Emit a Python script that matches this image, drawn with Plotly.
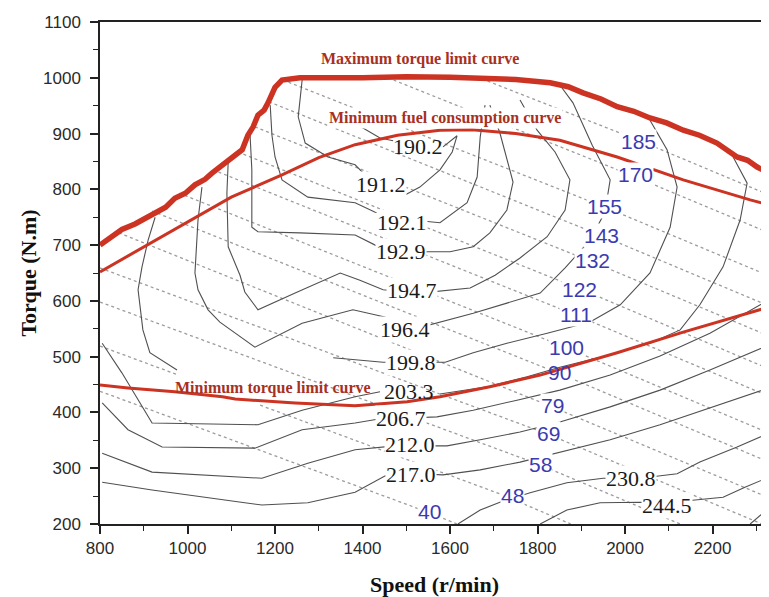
import plotly.graph_objects as go

# ---------------- data (speed r/min, torque N.m) ----------------
max_torque_speed = [800, 830, 850, 880, 905, 926, 950, 971, 995, 1017, 1040, 1056, 1075, 1093, 1110, 1125,
                    1138, 1150, 1161, 1175, 1184, 1200, 1216, 1257,
                    1400, 1500, 1600, 1700, 1750, 1829, 1870, 1904, 1945, 1982, 2020, 2057, 2095, 2133,
                    2170, 2210, 2256, 2280, 2302, 2329]
max_torque_torque = [700, 716, 728, 738, 748, 759, 768, 784, 793, 808, 818, 829, 840, 853, 860, 871,
                     897, 912, 933, 942, 955, 983, 996, 1000,
                     1000, 1002, 1001, 999, 997, 991, 984, 973, 962, 948, 940, 928, 919, 906,
                     897, 883, 858, 852, 840, 829]

min_fuel_speed = [800, 900, 1017, 1100, 1216, 1300, 1383, 1480, 1577, 1650, 1750, 1851, 1982, 2133, 2286, 2329]
min_fuel_torque = [652, 697, 750, 786, 826, 857, 880, 897, 906, 907, 900, 888, 858, 817, 781, 772]

min_torque_speed = [800, 864, 971, 1047, 1080, 1109, 1246, 1383, 1502, 1577, 1691, 1806, 1982, 2133, 2329]
min_torque_torque = [449, 444, 437, 431, 428, 424, 417, 412, 419, 428, 446, 467, 507, 544, 589]

# BSFC contour lines (g/kWh)
c190_2_speed = [1360, 1401, 1440, 1470, None, 1584, 1616, 1605, 1577, 1531, 1497]
c190_2_torque = [921, 910, 892, 887, None, 876, 896, 867, 835, 804, 790]
c191_2_speed = [1262, 1257, 1253, 1269, 1321, 1383, 1413, 1440, 1497]
c191_2_torque = [996, 960, 930, 883, 858, 844, 820, 804, 790]
c192_1_speed = [1189, 1193, 1200, 1216, 1275, 1383, 1429, 1513, 1577, 1639, 1662, 1669, 1680]
c192_1_torque = [951, 897, 858, 817, 786, 776, 759, 745, 740, 776, 822, 894, 951]
c192_9_speed = [1143, 1147, 1147, 1161, 1257, 1383, 1429, 1497, 1550, 1600, 1653, 1691, 1730, 1744, 1714, 1691]
c192_9_torque = [897, 835, 732, 724, 722, 718, 700, 686, 688, 688, 697, 722, 763, 813, 901, 951]
c194_7_speed = [1093, 1090, 1093, 1120, 1131, 1161, 1246, 1349, 1394, 1447, 1531, 1589, 1646, 1703, 1760,
                1822, 1863, 1874, 1840, 1799, 1760]
c194_7_torque = [849, 793, 697, 646, 616, 584, 614, 650, 637, 620, 614, 618, 623, 646, 677,
                 715, 763, 817, 867, 906, 960]
c196_4_speed = [1033, 1024, 1017, 1024, 1047, 1074, 1154, 1262, 1378, 1451, 1511, 1570, 1653, 1730, 1806,
                1863, 1920, 1954, 1966, 1925, 1881, 1851]
c196_4_torque = [804, 745, 650, 620, 584, 562, 517, 560, 584, 571, 548, 560, 578, 596, 614,
                 659, 709, 759, 817, 879, 955, 987]
c199_8_speed = [926, 910, 896, 887, 898, 914, 976, None, 1333, 1447, 1529, 1589, 1653, 1730, 1822,
                1920, 1989, 2057, 2103, 2119, 2096, 2057]
c199_8_torque = [750, 709, 661, 620, 548, 507, 476, None, 498, 490, 490, 490, 507, 524, 542,
                 562, 593, 650, 732, 804, 871, 924]
c203_3_speed = [805, 850, 919, 1161, 1262, 1383, 1440, None, 1577, 1685, 1776, 1851, 1943, 2057, 2126,
                2171, 2224, 2263, 2279, 2247]
c203_3_torque = [524, 471, 381, 378, 404, 428, 437, None, 433, 446, 464, 481, 499, 524, 548,
                 593, 661, 745, 811, 858]
c206_7_speed = [805, 864, 942, 1154, 1262, 1383, 1451, 1509, 1570, 1653, 1753, 1851, 1966, 2080, 2194, 2329]
c206_7_torque = [417, 369, 338, 336, 369, 381, 390, 390, 392, 404, 422, 440, 467, 501, 542, 602]
c212_0_speed = [805, 919, 1170, 1275, 1383, 1474, 1536, 1593, 1669, 1760, 1851, 1966, 2080, 2194, 2329]
c212_0_torque = [327, 293, 282, 309, 333, 340, 340, 340, 351, 365, 383, 410, 440, 476, 521]
c217_0_speed = [805, 919, 1131, 1170, 1275, 1383, 1451, 1525, 1584, 1669, 1760, 1851, 1966, 2080, 2194, 2329]
c217_0_torque = [275, 261, 238, 234, 238, 257, 286, 290, 288, 297, 311, 329, 351, 378, 408, 444]
c230_8_speed = [1618, 1669, 1714, 1783, 1867, 1950, 2034, 2119, 2171, 2256, 2329]
c230_8_torque = [200, 225, 239, 256, 274, 282, 282, 290, 311, 338, 363]
c244_5_speed = [1806, 1867, 1943, 2034, 2096, 2155, 2224, 2274, 2329]
c244_5_torque = [200, 225, 238, 239, 238, 243, 248, 266, 284]
c_outer_speed = [2286, 2329]
c_outer_torque = [200, 229]

bsfc_labels = ["190.2", "191.2", "192.1", "192.9", "194.7", "196.4", "199.8", "203.3",
               "206.7", "212.0", "217.0", "230.8", "244.5"]
bsfc_label_speed = [1527, 1442, 1490, 1488, 1513, 1497, 1511, 1506, 1488, 1509, 1511, 2014, 2096]
bsfc_label_torque = [876, 808, 741, 688, 618, 548, 489, 437, 390, 342, 288, 282, 234]

# iso-power lines (kW)
p200_speed = [1886, 2126]
p200_torque = [978, 912]
p185_speed = [1673, 2034, 2329]
p185_torque = [998, 887, 790]
p170_speed = [1458, 2018, 2329]
p170_torque = [1000, 824, 722]
p155_speed = [1218, 1954, 2329]
p155_torque = [996, 768, 645]
p143_speed = [1186, 1943, 2329]
p143_torque = [957, 718, 591]
p132_speed = [1154, 1925, 2329]
p132_torque = [912, 670, 537]
p122_speed = [1115, 1902, 2329]
p122_torque = [867, 620, 478]
p111_speed = [1058, 1886, 2329]
p111_torque = [835, 575, 429]
p100_speed = [981, 1863, 2329]
p100_torque = [793, 517, 363]
p90_speed = [919, 1817, None, 1886, 2329]
p90_torque = [761, 480, None, 458, 311]
p79_speed = [843, 1824, 2329]
p79_torque = [722, 413, 247]
p69_speed = [800, 1824, 2313]
p69_torque = [659, 361, 200]
p58_speed = [800, 1806, 2126]
p58_torque = [598, 306, 200]
p48_speed = [800, 976, None, 1166, 1714, 1876]
p48_torque = [519, 468, None, 413, 254, 200]
p40_speed = [800, 1550, 1616]
p40_torque = [438, 221, 200]

power_labels = ["185", "170", "155", "143", "132", "122", "111", "100", "90", "79", "69", "58", "48", "40"]
power_label_speed = [2030, 2023, 1952, 1947, 1925, 1897, 1888, 1867, 1851, 1835, 1826, 1806, 1742, 1552]
power_label_torque = [885, 826, 770, 718, 672, 621, 575, 517, 471, 413, 363, 306, 252, 222]

curve_labels = ["Maximum torque limit curve", "Minimum fuel consumption curve", "Minimum torque limit curve"]
curve_label_speed = [1531, 1589, 1195]
curve_label_torque = [1034, 928, 444]

# ---------------- figure ----------------
RED = "#cc3322"
RED_TEXT = "#a8301f"
GREY_DOT = "#9c9c9c"
CONTOUR = "#505050"

fig = go.Figure()


def add_line(xs, ys, color, width, dash=None):
    fig.add_trace(go.Scatter(x=xs, y=ys, mode="lines",
                             line=dict(color=color, width=width, dash=dash),
                             hoverinfo="skip", showlegend=False))


power_lines = [
    (p200_speed, p200_torque), (p185_speed, p185_torque), (p170_speed, p170_torque),
    (p155_speed, p155_torque), (p143_speed, p143_torque), (p132_speed, p132_torque),
    (p122_speed, p122_torque), (p111_speed, p111_torque), (p100_speed, p100_torque),
    (p90_speed, p90_torque), (p79_speed, p79_torque), (p69_speed, p69_torque),
    (p58_speed, p58_torque), (p48_speed, p48_torque), (p40_speed, p40_torque),
]
for xs, ys in power_lines:
    add_line(xs, ys, GREY_DOT, 1.3, "3px,3px")

contours = [
    (c190_2_speed, c190_2_torque), (c191_2_speed, c191_2_torque), (c192_1_speed, c192_1_torque),
    (c192_9_speed, c192_9_torque), (c194_7_speed, c194_7_torque), (c196_4_speed, c196_4_torque),
    (c199_8_speed, c199_8_torque), (c203_3_speed, c203_3_torque), (c206_7_speed, c206_7_torque),
    (c212_0_speed, c212_0_torque), (c217_0_speed, c217_0_torque), (c230_8_speed, c230_8_torque),
    (c244_5_speed, c244_5_torque), (c_outer_speed, c_outer_torque),
]
for xs, ys in contours:
    add_line(xs, ys, CONTOUR, 1.1)

add_line(min_fuel_speed, min_fuel_torque, RED, 3)
add_line(min_torque_speed, min_torque_torque, RED, 3)
add_line(max_torque_speed, max_torque_torque, RED, 5.5)

annotations = []
no_bg_bsfc = {"190.2", "203.3"}
for t, sx, ty in zip(bsfc_labels, bsfc_label_speed, bsfc_label_torque):
    annotations.append(dict(x=sx, y=ty, xref="x", yref="y", text=t, showarrow=False,
                            font=dict(family="Liberation Serif, Times New Roman, serif", size=22, color="#1a1a1a"),
                            bgcolor=None if t in no_bg_bsfc else "white", borderpad=0))
for t, sx, ty in zip(power_labels, power_label_speed, power_label_torque):
    annotations.append(dict(x=sx, y=ty, xref="x", yref="y", text=t, showarrow=False,
                            font=dict(family="Liberation Sans, Arial, sans-serif", size=21, color="#3b3bb0"),
                            bgcolor=None if t == "90" else "white", borderpad=0))
for i, (t, sx, ty) in enumerate(zip(curve_labels, curve_label_speed, curve_label_torque)):
    annotations.append(dict(x=sx, y=ty, xref="x", yref="y", text="<b>" + t + "</b>", showarrow=False,
                            font=dict(family="Liberation Serif, Times New Roman, serif", size=16, color=RED_TEXT),
                            bgcolor="white" if i < 2 else None, borderpad=1))

axis_font = dict(family="Liberation Sans, Arial, sans-serif", size=17, color="#2a2a2a")
title_font = dict(family="Liberation Serif, Times New Roman, serif", size=22, color="#111111")

# the page body adds an 8 px offset; the figure is sized so the plot area lands at
# x 100..769 and y 22..524 of the browser window
fig.update_layout(
    width=761, height=589,
    margin=dict(l=92, r=0, t=14, b=73),
    paper_bgcolor="white", plot_bgcolor="white",
    annotations=annotations,
    xaxis=dict(range=[800, 2329], tickmode="linear", tick0=800, dtick=200, automargin=False,
               ticks="outside", ticklen=8, tickwidth=1.5, tickcolor="#222",
               showline=True, linecolor="#222", linewidth=1.5, mirror=True,
               showgrid=False, zeroline=False, tickfont=axis_font,
               minor=dict(ticks="outside", ticklen=5, tick0=800, dtick=100,
                          tickcolor="#222", tickwidth=1.2, showgrid=False),
               title=dict(text="<b>Speed (r/min)</b>", font=title_font, standoff=20)),
    yaxis=dict(range=[200, 1100], tickmode="linear", tick0=200, dtick=100, automargin=False,
               ticks="outside", ticklen=8, tickwidth=1.5, tickcolor="#222",
               showline=True, linecolor="#222", linewidth=1.5,
               showgrid=False, zeroline=False, tickfont=axis_font, ticklabelstandoff=6,
               minor=dict(ticks="outside", ticklen=5, tick0=200, dtick=50,
                          tickcolor="#222", tickwidth=1.2, showgrid=False),
               title=dict(text="<b>Torque (N.m)</b>", font=title_font, standoff=0)),
)

fig.write_html("out.html")
